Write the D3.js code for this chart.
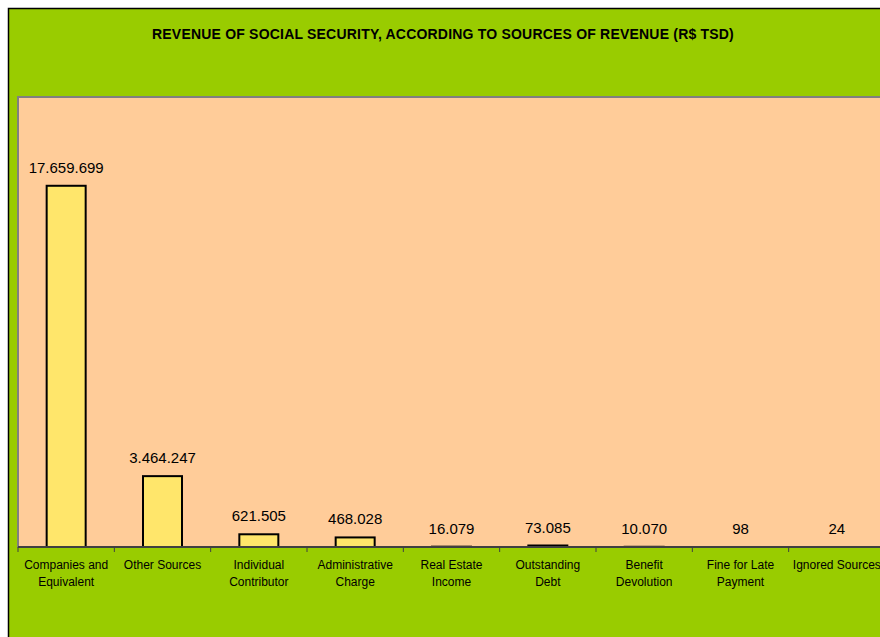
<!DOCTYPE html>
<html>
<head>
<meta charset="utf-8">
<script src="https://cdn.jsdelivr.net/npm/d3@7"></script>
<style>
  body { margin: 0; background: #fff; }
  svg { display: block; font-family: "Liberation Sans", Arial, sans-serif; }
</style>
</head>
<body>
<script>
var categories = [
  ["Companies and", "Equivalent"],
  ["Other Sources"],
  ["Individual", "Contributor"],
  ["Administrative", "Charge"],
  ["Real Estate", "Income"],
  ["Outstanding", "Debt"],
  ["Benefit", "Devolution"],
  ["Fine for Late", "Payment"],
  ["Ignored Sources"]
];
var values = [17659699, 3464247, 621505, 468028, 16079, 73085, 10070, 98, 24];
var valueLabels = ["17.659.699", "3.464.247", "621.505", "468.028", "16.079", "73.085", "10.070", "98", "24"];

var width = 880, height = 637;

var svg = d3.select("body").append("svg")
  .attr("width", width)
  .attr("height", height);

// outer chart area
svg.append("rect")
  .attr("x", 8.5).attr("y", 8.5)
  .attr("width", 900).attr("height", 700)
  .attr("fill", "#99cc00")
  .attr("stroke", "#000").attr("stroke-width", 1.5);

svg.append("text")
  .attr("x", 443).attr("y", 39)
  .attr("text-anchor", "middle")
  .style("font-size", "14px").style("font-weight", "bold")
  .style("letter-spacing", "0.2px")
  .text("REVENUE OF SOCIAL SECURITY, ACCORDING TO SOURCES OF REVENUE (R$ TSD)");

var plot = { left: 18, top: 97, right: 885, bottom: 547 };

svg.append("rect")
  .attr("x", plot.left).attr("y", plot.top)
  .attr("width", 900).attr("height", plot.bottom - plot.top)
  .attr("fill", "#ffcc99")
  .attr("stroke", "#808080").attr("stroke-width", 2);

var band = (plot.right - plot.left) / categories.length;

var y = d3.scaleLinear()
  .domain([0, 22000000])
  .range([plot.bottom, plot.top]);

svg.append("g")
  .selectAll("rect")
  .data(values)
  .enter()
  .append("rect")
  .attr("x", function (d, i) { return plot.left + band * i + band / 2 - 19.5; })
  .attr("y", function (d) { return y(d); })
  .attr("width", 39)
  .attr("height", function (d) { return plot.bottom - y(d); })
  .attr("fill", "#ffe66b")
  .attr("stroke", "#000").attr("stroke-width", 2);

svg.append("g")
  .selectAll("text")
  .data(values)
  .enter()
  .append("text")
  .attr("x", function (d, i) { return plot.left + band * i + band / 2; })
  .attr("y", function (d) { return y(d) - 13; })
  .attr("text-anchor", "middle")
  .style("font-size", "15px")
  .attr("fill", "#000")
  .text(function (d, i) { return valueLabels[i]; });

// axis line and ticks
var axis = svg.append("g");
axis.append("line")
  .attr("x1", plot.left).attr("x2", 900)
  .attr("y1", plot.bottom).attr("y2", plot.bottom)
  .attr("stroke", "#404040").attr("stroke-width", 2);

axis.selectAll("line.tick")
  .data(d3.range(categories.length + 1))
  .enter()
  .append("line")
  .attr("class", "tick")
  .attr("x1", function (i) { return plot.left + band * i; })
  .attr("x2", function (i) { return plot.left + band * i; })
  .attr("y1", plot.bottom).attr("y2", plot.bottom + 5)
  .attr("stroke", "#404040").attr("stroke-width", 1);

var labels = axis.selectAll("text")
  .data(categories)
  .enter()
  .append("text")
  .attr("text-anchor", "middle")
  .style("font-size", "12px")
  .attr("fill", "#000");

labels.each(function (lines, i) {
  var t = d3.select(this);
  lines.forEach(function (s, j) {
    t.append("tspan")
      .attr("x", plot.left + band * i + band / 2)
      .attr("y", 569 + j * 17)
      .text(s);
  });
});
</script>
</body>
</html>
